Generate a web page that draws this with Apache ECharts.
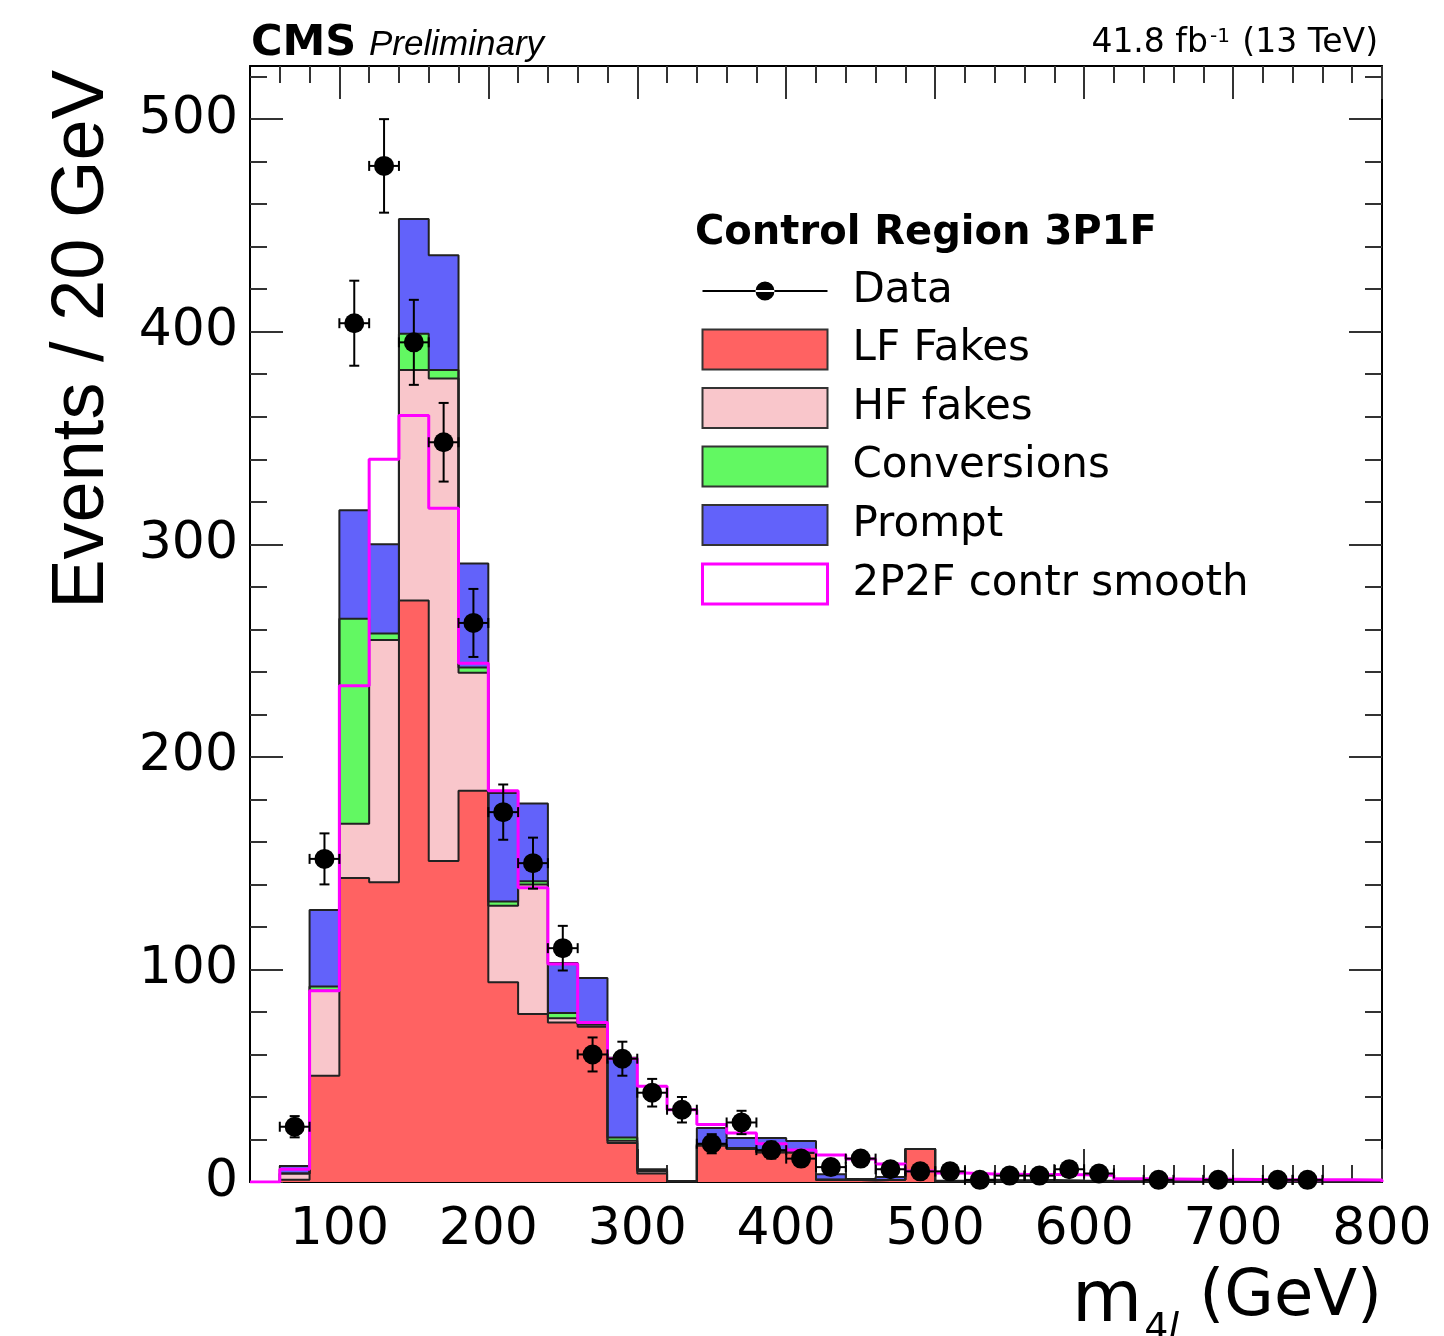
<!DOCTYPE html>
<html>
<head>
<meta charset="utf-8">
<script src="https://cdn.jsdelivr.net/npm/echarts@6/dist/echarts.min.js"></script>
<style>
  html, body { margin: 0; padding: 0; background: #fff; }
  #chart { width: 1444px; height: 1336px; }
</style>
</head>
<body>
<div id="chart"></div>
<script>
// bin edges of the m4l histogram (GeV), 20 GeV bins
var binEdges = [40, 60, 80, 100, 120, 140, 160, 180, 200, 220, 240, 260, 280, 300, 320, 340, 360, 380, 400,
                420, 440, 460, 480, 500, 520, 540, 560, 580, 600, 620, 640, 660, 680, 700, 720, 740, 760, 780, 800];

// stacked background components, one value per bin
var lfFakes = [0, 1, 50, 143, 141, 273.5, 151, 184, 94, 79, 75, 73, 18.4, 4, 0.3, 17, 15.5, 14, 13.7, 1,
               0.8, 1, 15.5, 0.3, 0.5, 0.4, 0.4, 0.3, 0.3, 0.2, 0.2, 0.2, 0.1, 0.1, 0.1, 0.1, 0, 0];
var hfFakes = [0, 3, 40, 25.5, 114, 108.5, 227, 55.6, 36, 61, 2, 1, 1, 1, 0, 0.5, 0.3, 0, 0, 0,
               0, 0, 0, 0, 0, 0, 0, 0, 0, 0, 0, 0, 0, 0, 0, 0, 0, 0];
var conversions = [0, 0, 2, 96.5, 3, 17, 4, 2.4, 2, 1.5, 2.5, 0.5, 1.5, 0.5, 0, 0.3, 0.2, 0, 0, 0,
                   0, 0, 0, 0, 0, 0, 0, 0, 0, 0, 0, 0, 0, 0, 0, 0, 0, 0];
var prompt = [0, 3.5, 36, 51, 42, 54, 54, 49, 51, 36.5, 23.5, 21.5, 37.5, 0.5, 0.2, 7.6, 4.7, 6.7, 5.6, 2.7,
              0.6, 1.4, 0, 0.3, 0.5, 0.4, 0.5, 0.4, 0.3, 0.3, 0.2, 0.2, 0.2, 0.1, 0.1, 0.1, 0.1, 0];

// 2P2F control region prediction (overlay line)
var smooth2P2F = [0, 6, 90, 233.5, 340, 360.6, 317, 244, 184, 138.4, 102.6, 75, 58, 45, 34, 27, 23, 18, 15, 12.7,
                  10.8, 8.5, 5.2, 4.2, 3.8, 3.6, 3.5, 3.4, 3.2, 1.5, 1.4, 1.3, 1.3, 1.2, 1.1, 1.0, 1.0, 0.9];

// data points
var dataMass = [70, 90, 110, 130, 150, 170, 190, 210, 230, 250, 270, 290, 310, 330, 350, 370, 390, 410, 430, 450,
                470, 490, 510, 530, 550, 570, 590, 610, 650, 690, 730, 750];
var dataEvents = [26, 152, 404, 478, 395, 348, 263, 174, 150, 110, 60, 58, 42, 34, 18, 28, 15, 11, 7, 11,
                  6, 5, 5, 1, 3, 3, 6, 4, 1, 1, 1, 1];
var dataErr = [5, 12, 20, 22, 20, 18.5, 16, 13, 12, 10.5, 8, 8, 6.5, 6, 4.5, 5.5, 4, 3.5, 3, 3.5,
               2.5, 2.5, 2.5, 1.5, 2, 2, 2.5, 2, 1.5, 1.5, 1.5, 1.5];
var binHalfWidth = 10;

// tick labels
var xTickLabels = [100, 200, 300, 400, 500, 600, 700, 800];
var yTickLabels = [0, 100, 200, 300, 400, 500];

var FONT = 'DejaVu Sans';
var TICK = {color: '#333', width: 2};

function minorTicks(lo, hi, step, majors) {
    var out = [];
    for (var v = lo; v <= hi; v += step) {
        if (majors.indexOf(v) < 0) out.push(v);
    }
    return out;
}
var xMinor = minorTicks(60, 780, 20, xTickLabels);
var yMinor = minorTicks(20, 520, 20, yTickLabels);

function cumulate(list) {
    var out = [];
    for (var i = 0; i < list[0].length; i++) {
        var s = 0;
        for (var k = 0; k < list.length; k++) s += list[k][i];
        out.push(s);
    }
    return out;
}

function stepData(values) {
    var last = binEdges.length - 1;
    var pts = [[binEdges[0], 0]];
    for (var i = 0; i < values.length; i++) pts.push([binEdges[i], values[i]]);
    pts.push([binEdges[last], values[values.length - 1]]);
    pts.push([binEdges[last], 0]);
    return pts;
}

function stackSeries(name, values, fill) {
    return {
        name: name,
        type: 'line',
        step: 'end',
        data: stepData(values),
        showSymbol: false,
        symbol: 'none',
        color: fill,
        lineStyle: {color: '#222', width: 2},
        areaStyle: {color: fill, opacity: 1},
        silent: true
    };
}

var sumLF = lfFakes;
var sumHF = cumulate([lfFakes, hfFakes]);
var sumConv = cumulate([lfFakes, hfFakes, conversions]);
var sumAll = cumulate([lfFakes, hfFakes, conversions, prompt]);

function xAx(pos, ticks, len, withLine, withLabels) {
    return {
        type: 'value', position: pos, min: 40, max: 800,
        axisLine: {show: withLine, onZero: false, lineStyle: {color: '#000', width: 2}},
        axisTick: {show: true, inside: true, length: len, customValues: ticks, lineStyle: TICK},
        axisLabel: {show: withLabels, customValues: xTickLabels, margin: 22, color: '#000',
                    fontFamily: FONT, fontSize: 52},
        splitLine: {show: false}
    };
}
function yAx(pos, ticks, len, withLine, withLabels) {
    return {
        type: 'value', position: pos, min: 0, max: 525,
        axisLine: {show: withLine, onZero: false, lineStyle: {color: '#000', width: 2}},
        axisTick: {show: true, inside: true, length: len, customValues: ticks, lineStyle: TICK},
        axisLabel: {show: withLabels, customValues: yTickLabels, margin: 12, color: '#000',
                    fontFamily: FONT, fontSize: 52},
        splitLine: {show: false}
    };
}

var xMain = xAx('bottom', xTickLabels, 33, true, true);
xMain.name = '{m|m}{s|4}{l|l}{g| (GeV)}';
xMain.nameLocation = 'end';
xMain.nameGap = 0;
xMain.nameMoveOverlap = false;
xMain.nameTextStyle = {
    align: 'right', verticalAlign: 'top', padding: [84, 0, 0, 0],
    rich: {
        m: {fontFamily: FONT, fontSize: 72, lineHeight: 64, verticalAlign: 'top', color: '#000'},
        s: {fontFamily: FONT, fontSize: 38, lineHeight: 38, verticalAlign: 'top', padding: [44, 0, 0, 2], color: '#000'},
        l: {fontFamily: FONT, fontSize: 38, lineHeight: 38, verticalAlign: 'top', fontStyle: 'italic', padding: [44, 0, 0, 0], color: '#000'},
        g: {fontFamily: FONT, fontSize: 64, lineHeight: 64, verticalAlign: 'top', color: '#000'}
    }
};

var yMain = yAx('left', yTickLabels, 33, true, true);
yMain.name = 'Events / 20 GeV';
yMain.nameLocation = 'end';
yMain.nameRotate = 90;
yMain.nameGap = -4;
yMain.nameMoveOverlap = false;
yMain.nameTextStyle = {
    fontFamily: 'Liberation Sans', fontSize: 74, color: '#000',
    align: 'right', verticalAlign: 'bottom', padding: [0, 0, 130, 0]
};

var errorSeries = {
    name: 'Data errors',
    type: 'custom',
    data: dataMass.map(function (m, i) { return [m, dataEvents[i], dataErr[i]]; }),
    renderItem: function (params, api) {
        var x = api.value(0), y = api.value(1), e = api.value(2);
        var top = api.coord([x, y + e]);
        var bot = api.coord([x, Math.max(y - e, 0)]);
        var lft = api.coord([x - binHalfWidth, y]);
        var rgt = api.coord([x + binHalfWidth, y]);
        var cap = 5;
        var st = {stroke: '#000', lineWidth: 2};
        function seg(x1, y1, x2, y2) {
            return {type: 'line', shape: {x1: x1, y1: y1, x2: x2, y2: y2}, style: st};
        }
        return {
            type: 'group',
            children: [
                seg(top[0], top[1], bot[0], bot[1]),
                seg(top[0] - cap, top[1], top[0] + cap, top[1]),
                seg(bot[0] - cap, bot[1], bot[0] + cap, bot[1]),
                seg(lft[0], lft[1], rgt[0], rgt[1]),
                seg(lft[0], lft[1] - cap, lft[0], lft[1] + cap),
                seg(rgt[0], rgt[1] - cap, rgt[0], rgt[1] + cap)
            ]
        };
    },
    z: 9,
    silent: true
};

var option = {
    animation: false,
    backgroundColor: '#fff',
    grid: {left: 250, right: 62, top: 66, bottom: 154, containLabel: false, outerBoundsMode: 'none'},
    title: [
        {text: 'CMS', left: 246, top: 17,
         textStyle: {fontFamily: FONT, fontWeight: 'bold', fontSize: 43, lineHeight: 43, color: '#000'}},
        {text: 'Preliminary', left: 364, top: 23,
         textStyle: {fontFamily: 'Liberation Sans', fontStyle: 'italic', fontWeight: 'normal', fontSize: 35, lineHeight: 35, color: '#000'}},
        {text: '{n|41.8 fb}{p|-1}{n| (13 TeV)}', right: 61, top: 22,
         textStyle: {fontWeight: 'normal', rich: {
             n: {fontFamily: FONT, fontWeight: 'normal', fontSize: 33, lineHeight: 33, verticalAlign: 'bottom', color: '#000'},
             p: {fontFamily: FONT, fontWeight: 'normal', fontSize: 20, lineHeight: 20, verticalAlign: 'top', padding: [0, 2, 22, 2], color: '#000'}
         }}},
        {text: 'Control Region 3P1F', left: 690, top: 209,
         textStyle: {fontFamily: FONT, fontWeight: 'bold', fontSize: 40, lineHeight: 40, color: '#000'}}
    ],
    legend: {
        orient: 'vertical',
        left: 701,
        top: 270,
        padding: 0,
        itemWidth: 125,
        itemHeight: 40,
        itemGap: 16.5,
        selectedMode: false,
        textStyle: {fontFamily: FONT, fontSize: 42, lineHeight: 40, height: 40, color: '#000', padding: [0, 0, 0, 20]},
        data: [
            {name: 'Data', icon: 'path://M0,19H125V21H0Z M53,20A9.5,9.5,0,1,0,72,20A9.5,9.5,0,1,0,53,20Z',
             itemStyle: {color: '#000', borderWidth: 0}},
            {name: 'LF Fakes', icon: 'rect', itemStyle: {color: '#ff6262', borderColor: '#333', borderWidth: 2}},
            {name: 'HF fakes', icon: 'rect', itemStyle: {color: '#f9c6cb', borderColor: '#333', borderWidth: 2}},
            {name: 'Conversions', icon: 'rect', itemStyle: {color: '#62f862', borderColor: '#333', borderWidth: 2}},
            {name: 'Prompt', icon: 'rect', itemStyle: {color: '#6262fa', borderColor: '#333', borderWidth: 2}},
            {name: '2P2F contr smooth', icon: 'rect', itemStyle: {color: '#fff', borderColor: '#ff00ff', borderWidth: 3}}
        ]
    },
    xAxis: [
        xMain,
        xAx('bottom', xMinor, 17, false, false),
        xAx('top', xTickLabels, 33, true, false),
        xAx('top', xMinor, 17, false, false)
    ],
    yAxis: [
        yMain,
        yAx('left', yMinor, 17, false, false),
        yAx('right', yTickLabels, 33, true, false),
        yAx('right', yMinor, 17, false, false)
    ],
    series: [
        stackSeries('Prompt', sumAll, '#6262fa'),
        stackSeries('Conversions', sumConv, '#62f862'),
        stackSeries('HF fakes', sumHF, '#f9c6cb'),
        stackSeries('LF Fakes', sumLF, '#ff6262'),
        {
            name: '2P2F contr smooth',
            type: 'line',
            step: 'end',
            data: stepData(smooth2P2F),
            showSymbol: false,
            symbol: 'none',
            color: '#ff00ff',
            lineStyle: {color: '#ff00ff', width: 3},
            z: 5,
            silent: true
        },
        errorSeries,
        {
            name: 'Data',
            type: 'scatter',
            data: dataMass.map(function (m, i) { return [m, dataEvents[i]]; }),
            symbol: 'circle',
            symbolSize: 20,
            itemStyle: {color: '#000', opacity: 1},
            z: 10,
            silent: true
        }
    ]
};

var chart = echarts.init(document.getElementById('chart'));
chart.setOption(option);
</script>
</body>
</html>
